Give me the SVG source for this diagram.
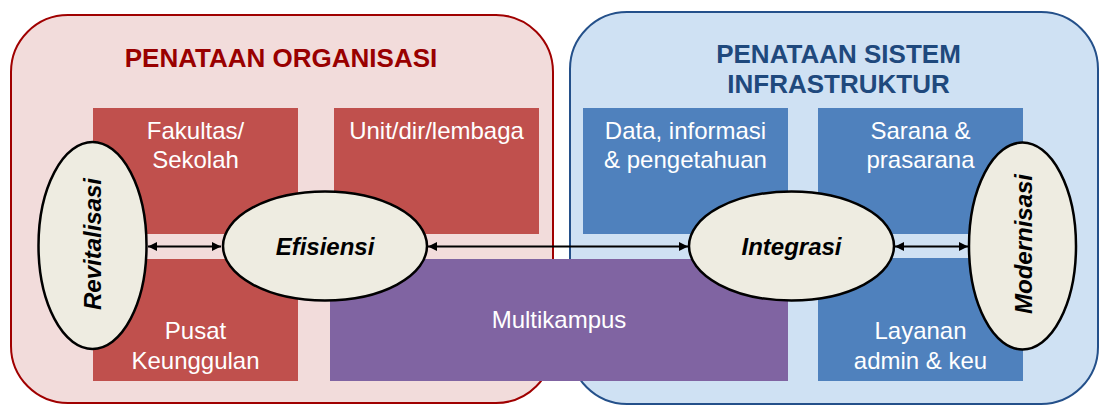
<svg xmlns="http://www.w3.org/2000/svg" width="1099" height="405" viewBox="0 0 1099 405">
<style>
text{font-family:"Liberation Sans",Arial,sans-serif}
.title{font-size:26px;font-weight:bold;text-anchor:middle}
.box{font-size:24px;fill:#ffffff;text-anchor:middle}
.oval{fill:#eeece1;stroke:#000;stroke-width:2.5}
.ol{font-size:24px;font-weight:bold;font-style:italic;fill:#000;text-anchor:middle}
.red{fill:#c0504d}
.blue{fill:#4f81bd}
.conn{stroke:#000;stroke-width:2;fill:none;marker-start:url(#ah);marker-end:url(#ah)}
</style>
<defs>
<marker id="ah" markerUnits="userSpaceOnUse" markerWidth="10" markerHeight="10" refX="9" refY="5" orient="auto-start-reverse">
<path d="M0,0.5 L9,5 L0,9.5 z" fill="#000"/>
</marker>
</defs>
<g id="org-container">
<rect x="11" y="15" width="542" height="388" rx="57" ry="57" fill="#f2dcdb" stroke="#a00000" stroke-width="2"/>
<text class="title" x="281" y="67" fill="#990000">PENATAAN ORGANISASI</text>
</g>
<g id="infra-container">
<rect x="570" y="12" width="528" height="392" rx="57" ry="57" fill="#cfe1f3" stroke="#24508a" stroke-width="2"/>
<text class="title" x="838.5" y="63" fill="#1f497d">PENATAAN SISTEM</text>
<text class="title" x="838.5" y="93" fill="#1f497d">INFRASTRUKTUR</text>
</g>
<g id="fakultas">
<rect class="red" x="93" y="108" width="205" height="126"/>
<text class="box" x="195.5" y="139">Fakultas/</text>
<text class="box" x="195.5" y="168">Sekolah</text>
</g>
<g id="unit">
<rect class="red" x="334" y="108" width="205" height="126"/>
<text class="box" x="436.5" y="139">Unit/dir/lembaga</text>
</g>
<g id="pusat">
<rect class="red" x="93" y="259" width="205" height="122"/>
<text class="box" x="195.5" y="339">Pusat</text>
<text class="box" x="195.5" y="369">Keunggulan</text>
</g>
<g id="data">
<rect class="blue" x="583" y="108" width="205" height="126"/>
<text class="box" x="685.5" y="139">Data, informasi</text>
<text class="box" x="685.5" y="168">&amp; pengetahuan</text>
</g>
<g id="sarana">
<rect class="blue" x="818" y="108" width="205" height="126"/>
<text class="box" x="920.5" y="139">Sarana &amp;</text>
<text class="box" x="920.5" y="168">prasarana</text>
</g>
<g id="layanan">
<rect class="blue" x="818" y="258" width="205" height="123"/>
<text class="box" x="920.5" y="339">Layanan</text>
<text class="box" x="920.5" y="369">admin &amp; keu</text>
</g>
<g id="multikampus">
<rect x="330" y="259" width="458" height="122" fill="#8064a2"/>
<text class="box" x="559" y="328">Multikampus</text>
</g>
<g id="connectors">
<line class="conn" x1="148" y1="246.5" x2="221" y2="246.5"/>
<line class="conn" x1="428" y1="246.5" x2="688" y2="246.5"/>
<line class="conn" x1="895" y1="246.5" x2="968" y2="246.5"/>
</g>
<g id="revitalisasi">
<ellipse class="oval" cx="92.5" cy="245.5" rx="54" ry="103.5"/>
<text class="ol" transform="translate(101,244) rotate(-90)">Revitalisasi</text>
</g>
<g id="efisiensi">
<ellipse class="oval" cx="325" cy="246" rx="102" ry="54.5"/>
<text class="ol" x="325" y="254.5">Efisiensi</text>
</g>
<g id="integrasi">
<ellipse class="oval" cx="791.5" cy="246" rx="102.5" ry="54.5"/>
<text class="ol" x="791.5" y="254.5">Integrasi</text>
</g>
<g id="modernisasi">
<ellipse class="oval" cx="1022.5" cy="246" rx="53.5" ry="103.5"/>
<text class="ol" transform="translate(1032,244) rotate(-90)">Modernisasi</text>
</g>
</svg>
